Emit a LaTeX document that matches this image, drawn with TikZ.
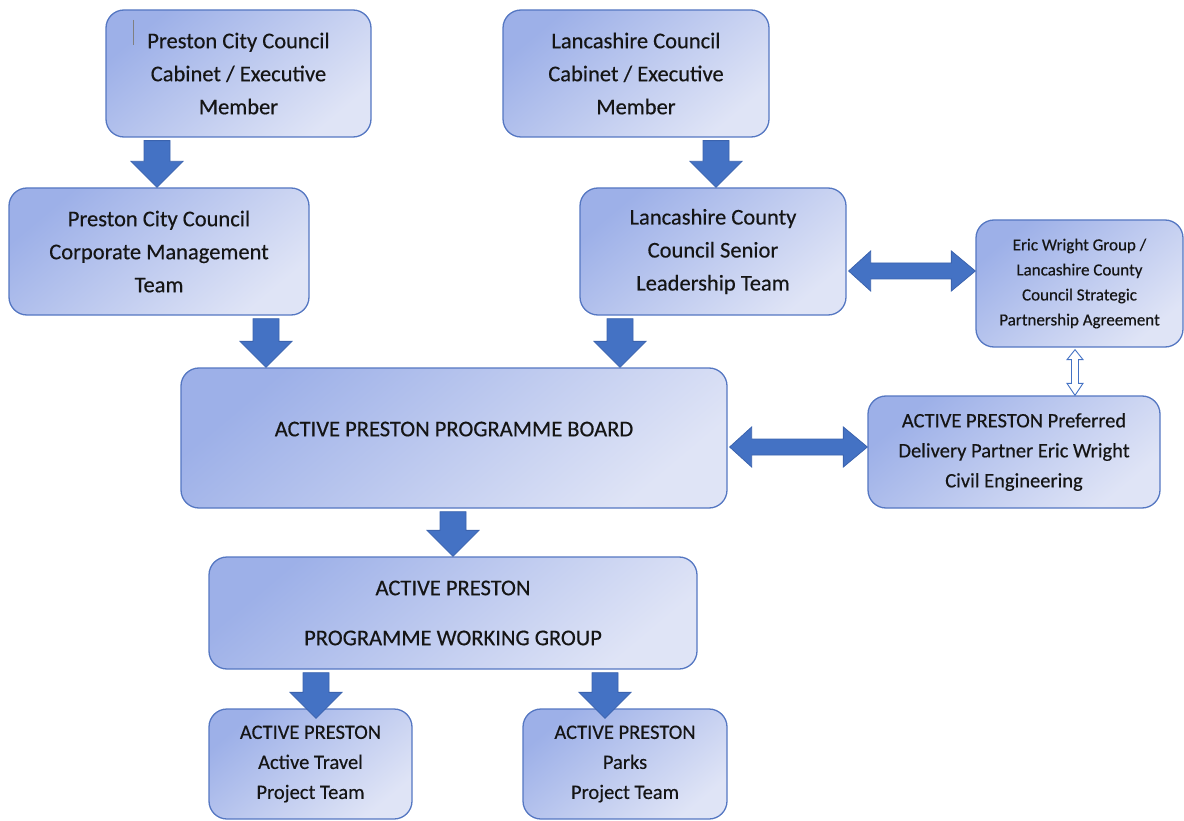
\documentclass[tikz,border=0pt]{standalone}
\usepackage{fontspec}
\setmainfont{Carlito}[FakeBold=0.35]
\usetikzlibrary{calc}
\definecolor{arrfill}{HTML}{4472C4}
\definecolor{arrline}{HTML}{3B63AE}
\definecolor{boxline}{HTML}{5577C2}
\definecolor{gA}{HTML}{9DB0E8}
\definecolor{gB}{HTML}{DFE4F6}
\definecolor{txt}{HTML}{151515}
\tikzset{
  x=1pt, y=-1pt,
  box/.style={draw=boxline, line width=1.3pt, rounded corners=18pt,
    top color=gA, bottom color=gB, shading angle=40,
    align=center, text=txt, inner sep=0pt},
  big/.style={font=\fontsize{22.5}{33}\selectfont},
  mid/.style={font=\fontsize{20.5}{30}\selectfont},
  small/.style={font=\fontsize{17}{25}\selectfont},
  arr/.style={fill=arrfill, draw=arrline, line width=0.8pt},
  hollow/.style={fill=white, draw=arrfill, line width=0.9pt},
  cursor/.style={draw=gray, line width=0.8pt}
}
% down block arrow: [overshoot]{x}{from}{to}
\newcommand\darr[4][0pt]{%
  \filldraw[arr] let \p1=(#3.south), \p2=(#4.north), \p3=(#2,0) in
    (\x3-13pt,\y1-3pt) -- (\x3-13pt,\y2+26pt-#1) -- (\x3-26pt,\y2+26pt-#1) --
    (\x3,\y2-#1) -- (\x3+26pt,\y2+26pt-#1) -- (\x3+13pt,\y2+26pt-#1) --
    (\x3+13pt,\y1-3pt) -- cycle;}
% horizontal double block arrow: {y}{left}{right}
\newcommand\harr[3]{%
  \filldraw[arr] let \p1=(#2.east), \p2=(#3.west), \p3=(0,#1) in
    (\x1+2pt,\y3) -- (\x1+24pt,\y3+20pt) -- (\x1+24pt,\y3+8pt) --
    (\x2-24pt,\y3+8pt) -- (\x2-24pt,\y3+20pt) -- (\x2,\y3) --
    (\x2-24pt,\y3-20pt) -- (\x2-24pt,\y3-8pt) -- (\x1+24pt,\y3-8pt) --
    (\x1+24pt,\y3-20pt) -- cycle;}
\begin{document}
\begin{tikzpicture}
\useasboundingbox (0,0) rectangle (1184,821);

\node[box, big, minimum width=265pt, minimum height=127pt] (pcab) at (238.5,73.5)
  {Preston City Council\\Cabinet / Executive\\Member};
\node[box, big, minimum width=266pt, minimum height=127pt] (lcab) at (636,73.5)
  {Lancashire Council\\Cabinet / Executive\\Member};
\node[box, big, minimum width=300pt, minimum height=127pt] (pcmt) at (159,251.5)
  {Preston City Council\\Corporate Management\\Team};
\node[box, big, minimum width=266pt, minimum height=127pt] (lslt) at (713,251.5)
  {Lancashire County\\Council Senior\\Leadership Team};
\node[box, small, minimum width=207pt, minimum height=127pt] (ewg) at (1079.5,283.5)
  {Eric Wright Group /\\Lancashire County\\Council Strategic\\Partnership Agreement};
\node[box, big, minimum width=546pt, minimum height=140pt] (board) at (454,438)
  {\raisebox{18pt}{ACTIVE PRESTON PROGRAMME BOARD}};
\node[box, mid, minimum width=292pt, minimum height=112pt] (pref) at (1014,452)
  {ACTIVE PRESTON Preferred\\Delivery Partner Eric Wright\\Civil Engineering};
\node[box, big, minimum width=488pt, minimum height=112pt] (wg) at (453,613)
  {ACTIVE PRESTON\\[17pt]PROGRAMME WORKING GROUP};
\node[box, mid, minimum width=203pt, minimum height=110pt] (trav) at (310.5,764)
  {ACTIVE PRESTON\\Active Travel\\Project Team};
\node[box, mid, minimum width=204pt, minimum height=110pt] (parks) at (625,764)
  {ACTIVE PRESTON\\Parks\\Project Team};

\draw[cursor] (133,20) -- (133,45);

\darr{157}{pcab}{pcmt}
\darr{716}{lcab}{lslt}
\darr{266}{pcmt}{board}
\darr{620}{lslt}{board}
\darr{453}{board}{wg}
\darr[10pt]{316}{wg}{trav}
\darr[10pt]{605}{wg}{parks}

\harr{271}{lslt}{ewg}
\harr{447}{board}{pref}

\draw[hollow] let \p1=(ewg.south), \p2=(pref.north), \p3=(1075,0) in
  (\x3,\y1-2pt) -- (\x3+8pt,\y1-12pt) -- (\x3+3.5pt,\y1-12pt) --
  (\x3+3.5pt,\y2+12pt) -- (\x3+8pt,\y2+12pt) -- (\x3,\y2) --
  (\x3-8pt,\y2+12pt) -- (\x3-3.5pt,\y2+12pt) -- (\x3-3.5pt,\y1-12pt) --
  (\x3-8pt,\y1-12pt) -- cycle;
\end{tikzpicture}
\end{document}
